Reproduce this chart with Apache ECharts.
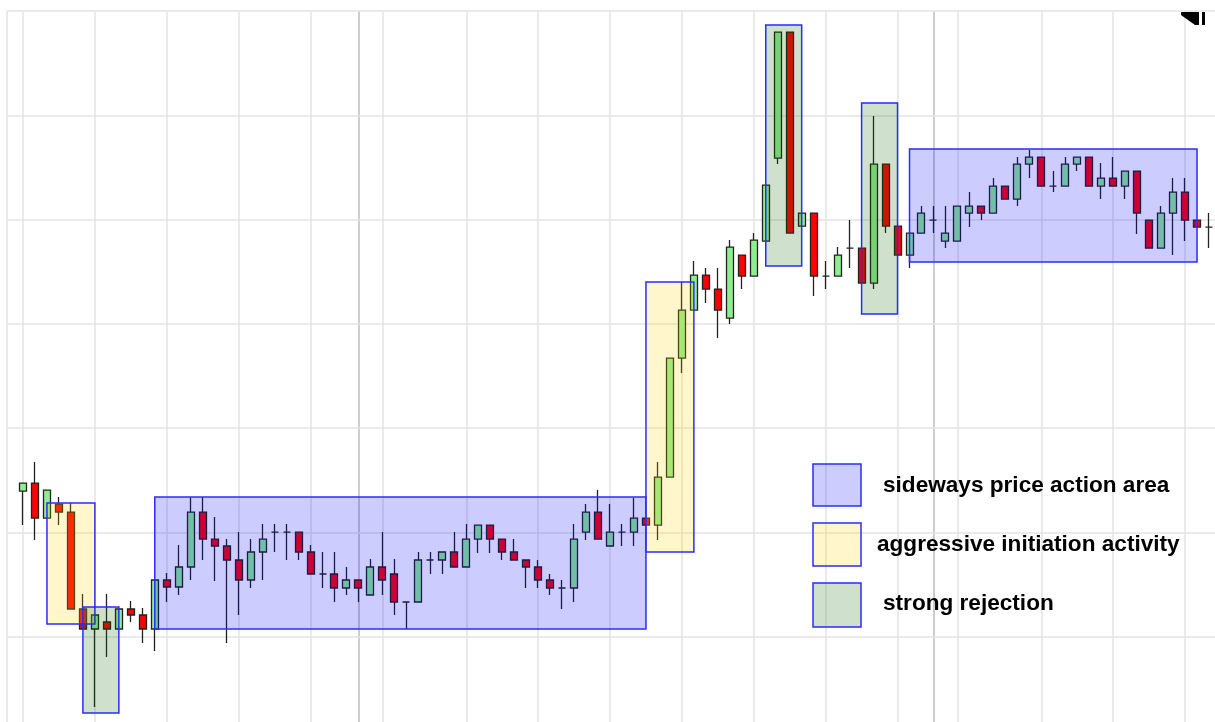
<!DOCTYPE html>
<html>
<head>
<meta charset="UTF-8">
<title>price action</title>
<script src="https://cdn.jsdelivr.net/npm/echarts@6/dist/echarts.min.js"></script>
<style>
html, body { margin:0; padding:0; background:#fff; }
#chart { width:1215px; height:722px; }
</style>
</head>
<body>
<div id="chart"></div>
<script>
// one candle per bar, index = position on the x axis
var opens = [1293,1301,1266,1280,1272,1175,1155,1162,1155,1175,
  1169,1155,1204,1197,1217,1272,1245,1238,1224,1204,
  1232,1252,1252,1252,1232,1210,1210,1196,1204,1189,
  1217,1210,1182,1182,1224,1224,1232,1217,1245,1259,
  1245,1232,1224,1217,1204,1196,1196,1252,1272,1238,
  1252,1252,1266,1259,1307,1426,1474,1509,1495,1466,
  1529,1508,1543,1626,1752,1558,1571,1508,1508,1536,
  1536,1501,1620,1558,1529,1551,1564,1543,1543,1571,
  1578,1571,1598,1585,1620,1627,1598,1598,1620,1627,
  1598,1606,1598,1613,1564,1536,1571,1592,1564,1557];
var closes = [1301,1266,1294,1272,1175,1155,1169,1155,1175,1169,
  1155,1204,1197,1217,1272,1245,1238,1224,1204,1232,
  1245,1252,1252,1232,1210,1210,1196,1204,1196,1217,
  1204,1182,1182,1224,1224,1232,1217,1245,1259,1245,
  1232,1224,1217,1204,1196,1196,1245,1272,1245,1252,
  1252,1266,1259,1307,1426,1474,1509,1495,1474,1537,
  1508,1544,1599,1752,1551,1571,1508,1508,1529,1536,
  1501,1620,1558,1529,1551,1571,1564,1551,1578,1578,
  1571,1598,1585,1620,1627,1598,1598,1620,1627,1598,
  1606,1598,1613,1571,1536,1571,1592,1564,1557,1557];
var lows = [1259,1244,1266,1259,1175,1155,1077,1127,1155,1162,
  1141,1133,1182,1189,1204,1224,1203,1141,1169,1196,
  1204,1232,1224,1224,1210,1196,1182,1189,1182,1189,
  1189,1169,1155,1182,1210,1210,1217,1217,1231,1231,
  1224,1224,1196,1196,1189,1175,1182,1244,1245,1238,
  1238,1238,1259,1244,1307,1411,1474,1481,1446,1460,
  1495,1508,1543,1620,1551,1558,1488,1495,1508,1516,
  1501,1495,1551,1529,1516,1551,1551,1536,1543,1557,
  1564,1571,1585,1578,1606,1598,1592,1598,1613,1598,
  1585,1598,1585,1550,1536,1536,1529,1543,1557,1536];
var highs = [1301,1322,1294,1287,1281,1190,1169,1190,1175,1183,
  1176,1204,1211,1239,1287,1287,1267,1245,1252,1245,
  1260,1260,1260,1252,1239,1232,1232,1217,1204,1225,
  1252,1225,1182,1232,1232,1232,1252,1260,1259,1259,
  1245,1245,1224,1224,1210,1204,1260,1280,1294,1280,
  1260,1286,1266,1322,1426,1502,1523,1516,1516,1544,
  1529,1551,1599,1752,1752,1571,1571,1523,1537,1564,
  1536,1668,1620,1558,1551,1578,1578,1578,1578,1592,
  1578,1606,1598,1627,1634,1627,1613,1627,1627,1627,
  1621,1627,1613,1613,1564,1578,1606,1606,1564,1571];

// highlighted zones: [fromBar, toBar, low, high]
var sidewaysBoxes = [[11, 52, 1155, 1287], [74, 98, 1522, 1635]];
var initiationBoxes = [[2, 6, 1160, 1281], [52, 56, 1232, 1502]];
var rejectionBoxes = [[5, 8, 1071, 1177], [62, 65, 1518, 1759], [70, 73, 1470, 1681]];

// grid: vertical lines at bar indexes, darker session lines, horizontal price levels
var gridBars = [0, 6, 12, 18, 24, 30, 37, 43, 49, 55, 61, 67, 73, 78, 85, 91, 97];
var sessionBars = [28, 76];
var priceLevels = [1147.3, 1251.6, 1355.9, 1460.2, 1564.5, 1668.8, 1773.1];

var legendNames = ['sideways price action area', 'aggressive initiation activity', 'strong rejection'];

var blueFill = 'rgba(0,0,255,0.2)';
var yellowFill = 'rgba(255,210,0,0.2)';
var greenFill = 'rgba(15,100,0,0.2)';
var boxLine = '#2b2bff';
var gridColor = '#e3e3e3';

var chart = echarts.init(document.getElementById('chart'));

var candles = [];
for (var i = 0; i < opens.length; i++) {
  candles.push([i, opens[i], closes[i], lows[i], highs[i]]);
}

function zones(list, fill) {
  return list.map(function (b) {
    return [
      {xAxis: b[0], yAxis: b[3], itemStyle: {color: fill, borderColor: boxLine, borderWidth: 1.5}},
      {xAxis: b[1], yAxis: b[2]}
    ];
  });
}

var gridLines = gridBars.map(function (b) {
  return {xAxis: b, lineStyle: {color: gridColor, width: 1.5, type: 'solid'}};
}).concat(sessionBars.map(function (b) {
  return {xAxis: b, lineStyle: {color: '#bdbdbd', width: 1.5, type: 'solid'}};
})).concat(priceLevels.map(function (p) {
  return {yAxis: p, lineStyle: {color: gridColor, width: 1.5, type: 'solid'}};
}));

var font = 'bold 22.6px "Liberation Sans", Arial, sans-serif';

var option = {
  animation: false,
  backgroundColor: '#fff',
  grid: {left: 7, top: 11, right: 0, bottom: 0},
  xAxis: {
    type: 'value', min: -1.336, max: 99.5,
    axisLine: {show: false}, axisTick: {show: false},
    axisLabel: {show: false}, splitLine: {show: false}
  },
  yAxis: {
    type: 'value', min: 1062, max: 1773.1,
    axisLine: {show: true, onZero: false, lineStyle: {color: gridColor, width: 1.5}},
    axisTick: {show: false}, axisLabel: {show: false},
    splitLine: {show: false}
  },
  series: [{
    type: 'candlestick',
    data: candles,
    encode: {x: 0, y: [1, 2, 3, 4]},
    barWidth: 7.5,
    itemStyle: {
      color: '#90ee90', color0: '#ff0000',
      borderColor: '#222', borderColor0: '#222', borderWidth: 1.3
    },
    markLine: {
      silent: true, symbol: 'none', z: 1,
      label: {show: false},
      data: gridLines
    },
    markArea: {
      silent: true, z: 3,
      data: zones(sidewaysBoxes, blueFill)
        .concat(zones(initiationBoxes, yellowFill))
        .concat(zones(rejectionBoxes, greenFill))
    }
  }],
  graphic: [
    {type: 'rect', shape: {x: 813, y: 464, width: 48, height: 42}, style: {fill: blueFill, stroke: boxLine, lineWidth: 1.5}, z: 10},
    {type: 'rect', shape: {x: 813, y: 523, width: 48, height: 43}, style: {fill: yellowFill, stroke: boxLine, lineWidth: 1.5}, z: 10},
    {type: 'rect', shape: {x: 813, y: 583, width: 48, height: 44}, style: {fill: greenFill, stroke: boxLine, lineWidth: 1.5}, z: 10},
    {type: 'text', x: 883, y: 486, z: 10, style: {text: legendNames[0], font: font, fill: '#000', verticalAlign: 'middle'}},
    {type: 'text', x: 877, y: 545, z: 10, style: {text: legendNames[1], font: font, fill: '#000', verticalAlign: 'middle'}},
    {type: 'text', x: 883, y: 604, z: 10, style: {text: legendNames[2], font: font, fill: '#000', verticalAlign: 'middle'}},
    {type: 'polygon', shape: {points: [[1181, 12], [1199, 12], [1199, 25], [1195, 25], [1181, 15]]}, style: {fill: '#000'}, z: 10},
    {type: 'rect', shape: {x: 1202, y: 12, width: 3, height: 13}, style: {fill: '#000'}, z: 10}
  ]
};

chart.setOption(option);
</script>
</body>
</html>
